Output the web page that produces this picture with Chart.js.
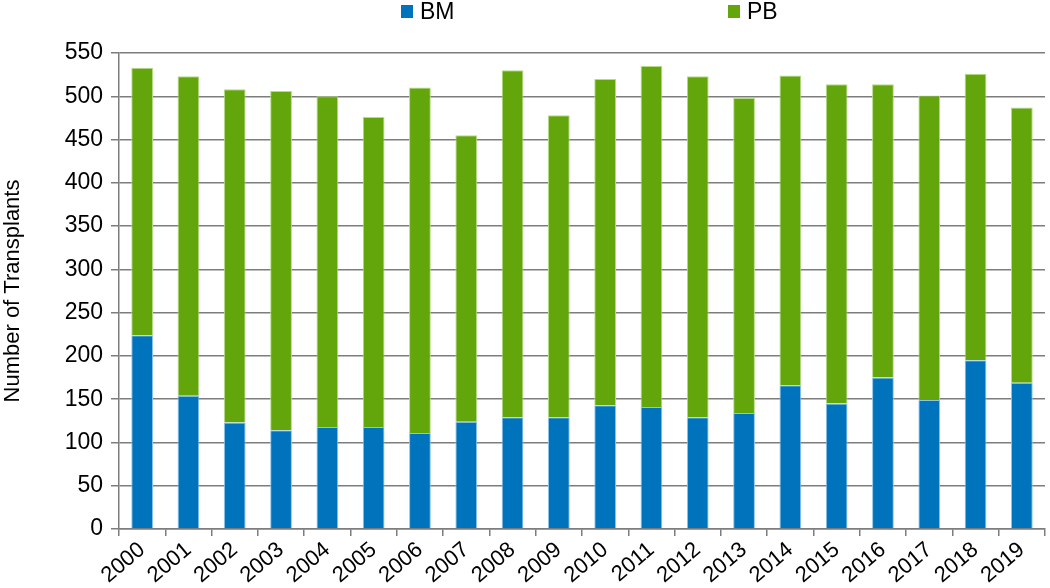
<!DOCTYPE html>
<html>
<head>
<meta charset="utf-8">
<script src="https://cdn.jsdelivr.net/npm/chart.js@4"></script>
<style>
  html, body { margin: 0; padding: 0; background: #fff; }
  #wrap { width: 1050px; height: 588px; position: relative; }
</style>
</head>
<body>
<div id="wrap"><canvas id="myChart"></canvas></div>
<script>
// data
var years = ["2000", "2001", "2002", "2003", "2004", "2005", "2006", "2007", "2008", "2009",
  "2010", "2011", "2012", "2013", "2014", "2015", "2016", "2017", "2018", "2019"];
var bmValues = [224, 154, 123, 114, 118, 118, 111, 124, 129, 129, 143, 141, 129, 134, 166, 145, 175, 149, 195, 169];
var pbValues = [309, 369, 385, 392, 382, 358, 399, 331, 401, 349, 377, 394, 394, 364, 358, 369, 339, 352, 331, 318];
var seriesNames = ["BM", "PB"];
var seriesColors = ["#0073bd", "#63a60b"];
var edgeColors = ["#8ec3ea", "#b6db88"];

var fontFamily = "'Liberation Sans', Arial, sans-serif";
var gridColor = "#7d7d7d";

// legend spread wide like the original, drawn by hand
var legendX = [401, 728];
var wideLegend = {
  id: "wideLegend",
  afterDraw: function (chart) {
    var ctx = chart.ctx;
    ctx.save();
    ctx.font = "23px " + fontFamily;
    ctx.textBaseline = "middle";
    chart.data.datasets.forEach(function (ds, i) {
      ctx.fillStyle = ds.backgroundColor;
      ctx.fillRect(legendX[i], 5, 12, 13);
      ctx.fillStyle = "#000";
      ctx.fillText(ds.label, legendX[i] + 19, 13);
    });
    ctx.restore();
  }
};

new Chart("myChart", {
  type: "bar",
  data: {
    labels: years,
    datasets: [
      {
        label: seriesNames[0],
        data: bmValues,
        backgroundColor: seriesColors[0],
        borderColor: edgeColors[0],
        borderWidth: 1,
        barPercentage: 0.47,
        categoryPercentage: 1
      },
      {
        label: seriesNames[1],
        data: pbValues,
        backgroundColor: seriesColors[1],
        borderColor: edgeColors[1],
        borderWidth: 1,
        barPercentage: 0.47,
        categoryPercentage: 1
      }
    ]
  },
  plugins: [wideLegend],
  options: {
    responsive: true,
    maintainAspectRatio: false,
    animation: false,
    layout: { padding: { top: 53, right: 5, left: 0, bottom: 0 } },
    plugins: {
      legend: { display: false },
      tooltip: { enabled: false }
    },
    scales: {
      x: {
        stacked: true,
        afterFit: function (scale) { scale.height = 59; },
        grid: {
          display: true,
          offset: true,
          drawOnChartArea: false,
          drawTicks: true,
          tickLength: 7,
          color: gridColor,
          lineWidth: 1.5
        },
        border: { color: gridColor, width: 1.5 },
        ticks: {
          color: "#000",
          font: { family: fontFamily, size: 22 },
          minRotation: 40,
          maxRotation: 40,
          autoSkip: false,
          padding: 1
        }
      },
      y: {
        stacked: true,
        min: 0,
        max: 550,
        afterFit: function (scale) { scale.width = 119; },
        grid: {
          color: gridColor,
          lineWidth: 1.5,
          tickLength: 8
        },
        border: { color: gridColor, width: 1.5 },
        ticks: {
          stepSize: 50,
          color: "#000",
          font: { family: fontFamily, size: 23 },
          padding: 8
        },
        title: {
          display: true,
          text: "Number of Transplants",
          color: "#000",
          font: { family: fontFamily, size: 22 },
          padding: { top: 0, bottom: 0 }
        }
      }
    }
  }
});
</script>
</body>
</html>
